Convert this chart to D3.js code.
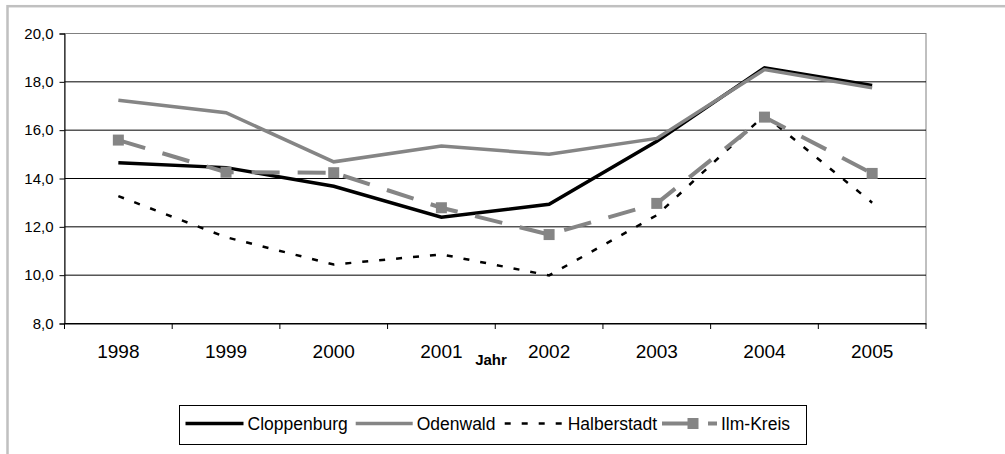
<!DOCTYPE html>
<html>
<head>
<meta charset="utf-8">
<script src="https://cdn.jsdelivr.net/npm/d3@7"></script>
<style>
  body { margin: 0; background: #fff; }
  text { font-family: "Liberation Sans", Arial, sans-serif; fill: #000; }
</style>
</head>
<body>
<div id="chart"></div>
<script>
// chart data
const years = ['1998', '1999', '2000', '2001', '2002', '2003', '2004', '2005'];
const cloppenburg = [14.65, 14.45, 13.68, 12.40, 12.93, 15.54, 18.58, 17.85];
const odenwald    = [17.24, 16.72, 14.69, 15.34, 15.00, 15.66, 18.51, 17.75];
const halberstadt = [13.27, 11.57, 10.44, 10.86, 9.99, 12.48, 16.62, 13.00];
const ilmKreis    = [15.59, 14.26, 14.24, 12.79, 11.68, 12.97, 16.54, 14.21];
const yTicks = [8, 10, 12, 14, 16, 18, 20];

const width = 1005, height = 454;
const margin = {top: 33.5, right: 926, bottom: 323.5, left: 64.5};

const series = [
  {name: 'Cloppenburg', values: cloppenburg, colour: '#000', width: 3.5, dash: null, marker: false},
  {name: 'Odenwald', values: odenwald, colour: '#858585', width: 3.5, dash: null, marker: false},
  {name: 'Halberstadt', values: halberstadt, colour: '#000', width: 2.5, dash: '6,11', marker: false},
  {name: 'Ilm-Kreis', values: ilmKreis, colour: '#858585', width: 4, dash: '28,18', marker: true}
];

const de = d3.formatLocale({decimal: ',', thousands: '.', grouping: [3], currency: ['', ' €']});
const fmt = de.format('.1f');

let svg = d3.select('#chart')
            .append('svg')
            .attr('width', width)
            .attr('height', height);

// outer frame (cut off right and bottom)
svg.append('rect')
   .attr('x', 7.5)
   .attr('y', 6.2)
   .attr('width', 1100)
   .attr('height', 600)
   .attr('fill', '#fff')
   .attr('stroke', '#c0c0c0')
   .attr('stroke-width', 2.5);

let x = d3.scaleBand()
          .domain(years)
          .range([margin.left, margin.right])
          .paddingInner(0)
          .paddingOuter(0);

let y = d3.scaleLinear()
          .domain([8, 20])
          .range([margin.bottom, margin.top]);

const cx = d => x(d) + x.bandwidth() / 2;

// plot area border
svg.append('rect')
   .attr('x', margin.left)
   .attr('y', margin.top)
   .attr('width', margin.right - margin.left)
   .attr('height', margin.bottom - margin.top)
   .attr('fill', '#fff')
   .attr('stroke', '#808080')
   .attr('stroke-width', 1);

// gridlines (top one is the grey plot border)
svg.append('g')
   .selectAll('line')
   .data(yTicks.slice(0, -1))
   .enter()
   .append('line')
   .attr('x1', margin.left)
   .attr('x2', margin.right)
   .attr('y1', d => y(d))
   .attr('y2', d => y(d))
   .attr('stroke', '#000')
   .attr('stroke-width', 1);

// y axis
let yAxis = d3.axisLeft(y)
              .tickValues(yTicks)
              .tickSize(5)
              .tickPadding(6)
              .tickFormat(d => fmt(d));

let gy = svg.append('g')
            .attr('transform', `translate(${margin.left},0)`)
            .call(yAxis);
gy.select('.domain').attr('stroke', '#000');
gy.selectAll('.tick line').attr('stroke', '#000');
gy.selectAll('.tick text')
  .style('font-size', '15px')
  .style('font-family', '"Liberation Sans", Arial, sans-serif')
  .attr('fill', '#000');

// x axis with labels at band centres
let xAxis = d3.axisBottom(x)
              .tickSize(0)
              .tickPadding(21);

let gx = svg.append('g')
            .attr('transform', `translate(0,${margin.bottom})`)
            .call(xAxis);
gx.select('.domain').attr('stroke', '#000');
gx.selectAll('.tick text')
  .style('font-size', '19px')
  .style('font-family', '"Liberation Sans", Arial, sans-serif')
  .attr('fill', '#000');

// tick marks on band boundaries
const bounds = years.map(d => x(d)).concat([x(years[years.length - 1]) + x.bandwidth()]);
gx.selectAll('line.bound')
  .data(bounds)
  .enter()
  .append('line')
  .attr('class', 'bound')
  .attr('x1', d => d)
  .attr('x2', d => d)
  .attr('y1', 0)
  .attr('y2', 5.5)
  .attr('stroke', '#000');

svg.append('text')
   .attr('x', 491)
   .attr('y', 365)
   .style('text-anchor', 'middle')
   .style('font-size', '15px')
   .style('font-weight', 'bold')
   .text('Jahr');

// lines
let line = d3.line()
             .x((d, i) => cx(years[i]))
             .y(d => y(d));

series.forEach(s => {
  svg.append('path')
     .datum(s.values)
     .attr('d', line)
     .attr('fill', 'none')
     .attr('stroke', s.colour)
     .attr('stroke-width', s.width)
     .attr('stroke-dasharray', s.dash)
     .attr('stroke-linejoin', 'miter');

  if (s.marker) {
    svg.selectAll(null)
       .data(s.values)
       .enter()
       .append('rect')
       .attr('x', (d, i) => cx(years[i]) - 5.5)
       .attr('y', d => y(d) - 5.5)
       .attr('width', 11)
       .attr('height', 11)
       .attr('fill', s.colour);
  }
});

// legend
const legendBox = {x: 179.5, y: 405.5, w: 627, h: 39};
const legendStarts = [185.5, 355.7, 504.7, 662];
const legendLens = [58, 57, 59, 55];

let legend = svg.append('g');
legend.append('rect')
      .attr('x', legendBox.x)
      .attr('y', legendBox.y)
      .attr('width', legendBox.w)
      .attr('height', legendBox.h)
      .attr('fill', '#fff')
      .attr('stroke', '#000')
      .attr('stroke-width', 1);

const ly = legendBox.y + 18;
series.forEach((s, i) => {
  let x0 = legendStarts[i], len = legendLens[i];
  legend.append('line')
        .attr('x1', x0)
        .attr('x2', x0 + len)
        .attr('y1', ly)
        .attr('y2', ly)
        .attr('stroke', s.colour)
        .attr('stroke-width', s.width)
        .attr('stroke-dasharray', s.dash);
  if (s.marker) {
    legend.append('rect')
          .attr('x', x0 + 31 - 5.5)
          .attr('y', ly - 5.5)
          .attr('width', 11)
          .attr('height', 11)
          .attr('fill', s.colour);
  }
  legend.append('text')
        .attr('x', x0 + len + 4)
        .attr('y', ly + 6.5)
        .style('font-size', '17.5px')
        .text(s.name);
});
</script>
</body>
</html>
